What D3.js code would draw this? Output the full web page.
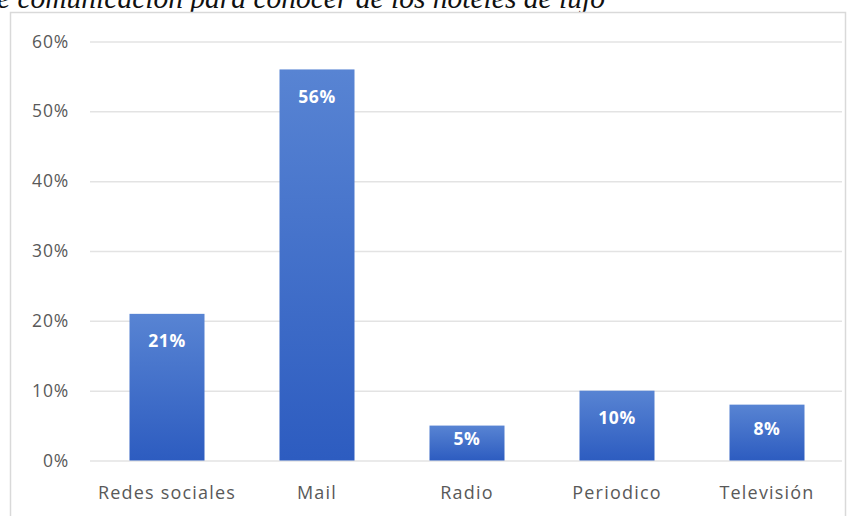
<!DOCTYPE html>
<html>
<head>
<meta charset="utf-8">
<script src="https://cdn.jsdelivr.net/npm/d3@7"></script>
<style>
  html, body { margin: 0; padding: 0; background: #fff; }
  svg { display: block; }
</style>
</head>
<body>
<svg id="chart" width="862" height="516"></svg>
<script>
// Medios de comunicación para conocer de los hoteles de lujo
const categories = ["Redes sociales", "Mail", "Radio", "Periodico", "Televisión"];
const values = [0.21, 0.56, 0.05, 0.10, 0.08];
const yTicks = [0, 0.1, 0.2, 0.3, 0.4, 0.5, 0.6];
const titleText = "e comunicación para conocer de los hoteles de lujo";

const svg = d3.select("#chart");

// gradient fill for bars: lighter at the top, deeper blue at the base
const defs = svg.append("defs");
const grad = defs.append("linearGradient")
  .attr("id", "barGrad").attr("x1", 0).attr("y1", 0).attr("x2", 0).attr("y2", 1);
grad.append("stop").attr("offset", "0%").attr("stop-color", "#5884d3");
grad.append("stop").attr("offset", "100%").attr("stop-color", "#2d5cc0");

// caption running off the top of the page
svg.append("text")
  .attr("x", -3).attr("y", 7.5)
  .attr("font-family", "Liberation Serif, Times New Roman, serif")
  .attr("font-style", "italic")
  .attr("font-size", 29.5)
  .attr("fill", "#111")
  .text(titleText);

// chart frame
svg.append("rect")
  .attr("x", 10.5).attr("y", 12.5)
  .attr("width", 835).attr("height", 520)
  .attr("fill", "#fff")
  .attr("stroke", "#d9d9d9").attr("stroke-width", 1.5);

const x = d3.scaleBand()
  .domain(categories)
  .range([92, 842])
  .paddingInner(0.5)
  .paddingOuter(0.25);

const y = d3.scaleLinear()
  .domain([0, 0.6])
  .range([460.5, 41.5]);

const pct = d3.format(".0%");
const labelFont = "Open Sans, Noto Sans, sans-serif";

// horizontal gridlines and percentage labels
const yAxis = d3.axisLeft(y)
  .tickValues(yTicks)
  .tickFormat(pct)
  .tickSize(-(842 - 90))
  .tickPadding(22);

const gy = svg.append("g")
  .attr("transform", "translate(90,0)")
  .call(yAxis);
gy.select(".domain").remove();
gy.selectAll(".tick line").attr("stroke", "#e3e3e3").attr("stroke-width", 1.5);
gy.selectAll(".tick text")
  .attr("font-family", labelFont)
  .attr("font-size", 17.5)
  .attr("letter-spacing", 0.8)
  .attr("fill", "#595959")
  .attr("x", -21);

// bars
svg.append("g").selectAll("rect")
  .data(categories)
  .join("rect")
  .attr("x", d => x(d))
  .attr("width", x.bandwidth())
  .attr("y", (d, i) => y(values[i]))
  .attr("height", (d, i) => y(0) - y(values[i]))
  .attr("fill", "url(#barGrad)");

// value labels inside the top of each bar (centred in bars too short for that)
svg.append("g").selectAll("text")
  .data(categories)
  .join("text")
  .attr("x", d => x(d) + x.bandwidth() / 2)
  .attr("y", (d, i) => Math.min(y(values[i]) + 27, (y(values[i]) + y(0)) / 2 - 4))
  .attr("dy", "0.35em")
  .attr("text-anchor", "middle")
  .attr("font-family", labelFont)
  .attr("font-weight", "bold")
  .attr("font-size", 17.5)
  .attr("letter-spacing", 0.6)
  .attr("fill", "#ffffff")
  .text((d, i) => pct(values[i]));

// category labels
const xAxis = d3.axisBottom(x).tickSize(0).tickPadding(26);
const gx = svg.append("g")
  .attr("transform", "translate(0,460.5)")
  .call(xAxis);
gx.select(".domain").remove();
gx.selectAll(".tick text")
  .attr("font-family", labelFont)
  .attr("font-size", 18)
  .attr("letter-spacing", 1.2)
  .attr("fill", "#595959");
</script>
</body>
</html>
